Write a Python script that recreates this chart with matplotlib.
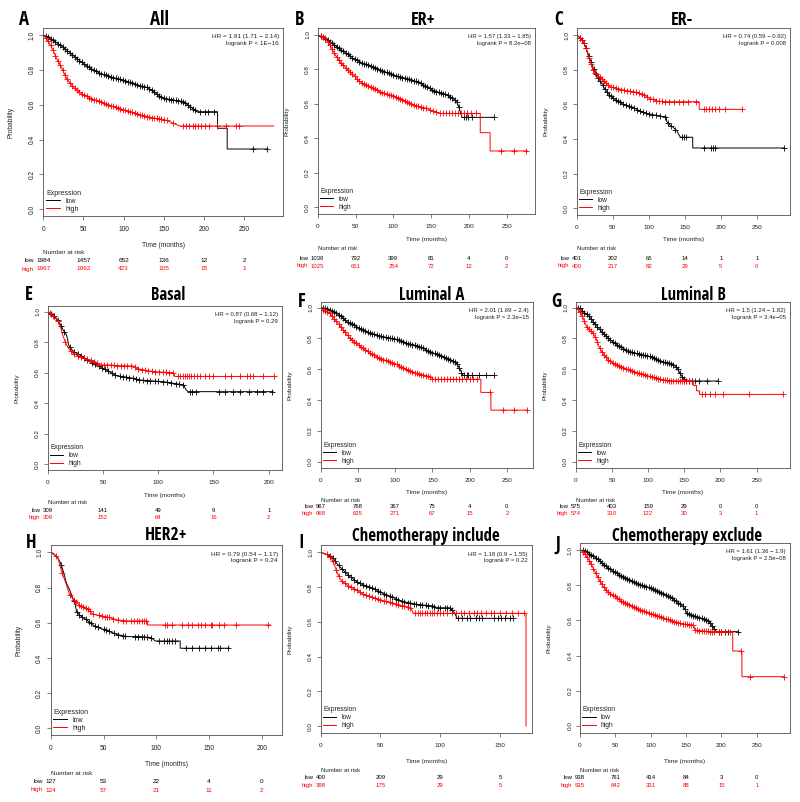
import numpy as np
import matplotlib
matplotlib.use("Agg")
import matplotlib.pyplot as plt
from matplotlib import font_manager
from matplotlib.font_manager import FontProperties

# ------------------------------------------------------------------ data
# A  All
A_low_t = [0, 5, 10, 20, 30, 40, 50, 60, 70, 80, 90, 100, 110, 120, 130, 137, 149, 162, 174, 183, 191, 217, 217, 229, 229, 279]
A_low_s = [1.0, 0.99, 0.975, 0.945, 0.91, 0.872, 0.835, 0.805, 0.782, 0.765, 0.752, 0.74, 0.726, 0.71, 0.698, 0.675, 0.637, 0.627, 0.618, 0.589, 0.56, 0.56, 0.465, 0.465, 0.346, 0.346]
A_low_cens = [3, 6, 9, 12, 15, 18, 21, 24, 27, 30, 33, 36, 39, 42, 45, 48, 51, 54, 57, 60, 63, 66, 69, 72, 75, 78, 81, 84, 87, 90, 93, 96, 99, 102, 105, 108, 111, 114, 117, 120, 123, 126, 129, 132, 135, 138, 141, 144, 147, 150, 153, 156, 159, 162, 165, 168, 171, 174, 177, 180, 183, 186, 189, 195, 201, 205, 212, 261, 278]
A_high_t = [0, 4, 8, 12, 16, 21, 25, 29, 34, 39, 45, 50, 60, 70, 80, 91, 100, 112, 122, 133, 145, 154, 162, 170, 287]
A_high_s = [1.0, 0.98, 0.95, 0.914, 0.87, 0.828, 0.79, 0.751, 0.72, 0.694, 0.672, 0.656, 0.635, 0.618, 0.60, 0.585, 0.57, 0.555, 0.54, 0.528, 0.518, 0.51, 0.493, 0.478, 0.478]
A_high_cens = [3, 6, 9, 12, 15, 18, 21, 24, 27, 30, 33, 36, 39, 42, 45, 48, 51, 54, 57, 60, 63, 66, 69, 72, 75, 78, 81, 84, 87, 90, 93, 96, 99, 102, 105, 108, 111, 114, 117, 120, 123, 126, 129, 132, 135, 138, 141, 144, 147, 150, 154, 162, 174, 178, 182, 186, 189, 193, 197, 201, 206, 216, 228, 240, 244]
A_risk_t = [0, 50, 100, 150, 200, 250]
A_risk_low = [1984, 1457, 652, 136, 12, 2]
A_risk_high = [1967, 1062, 423, 105, 15, 1]
A_stats = ["HR = 1.91 (1.71 \u2212 2.14)", "logrank P < 1E\u221216"]

# B  ER+
B_low_t = [0, 6, 12, 18, 25, 31, 38, 47, 54, 60, 68, 78, 88, 100, 113, 122, 131, 138, 144, 150, 157, 164, 171, 179, 184, 187, 189, 191, 233]
B_low_s = [1.0, 0.99, 0.972, 0.955, 0.932, 0.912, 0.894, 0.865, 0.848, 0.836, 0.822, 0.807, 0.788, 0.768, 0.752, 0.742, 0.729, 0.715, 0.70, 0.685, 0.671, 0.662, 0.652, 0.632, 0.61, 0.58, 0.545, 0.522, 0.522]
B_low_cens = [4, 7, 10, 13, 16, 19, 22, 25, 28, 31, 34, 37, 40, 43, 46, 49, 52, 55, 58, 61, 64, 67, 70, 73, 76, 79, 82, 85, 88, 91, 94, 97, 100, 103, 106, 109, 112, 115, 118, 121, 124, 127, 130, 133, 136, 139, 142, 145, 148, 151, 154, 157, 160, 163, 166, 169, 172, 175, 178, 181, 184, 187, 193, 196, 199, 204, 233]
B_high_t = [0, 5, 10, 14, 18.5, 24, 29.5, 36, 43, 50, 56, 62, 69, 76, 82, 90, 100, 106, 113, 120, 127, 135, 144, 152, 162, 215, 215, 228, 228, 277]
B_high_s = [1.0, 0.99, 0.98, 0.955, 0.923, 0.88, 0.845, 0.815, 0.787, 0.755, 0.729, 0.712, 0.70, 0.685, 0.671, 0.658, 0.646, 0.636, 0.623, 0.608, 0.594, 0.583, 0.574, 0.56, 0.545, 0.545, 0.433, 0.433, 0.327, 0.327]
B_high_cens = [4, 7, 10, 13, 16, 19, 22, 25, 28, 31, 34, 37, 40, 43, 46, 49, 52, 55, 58, 61, 64, 67, 70, 73, 76, 79, 82, 85, 88, 91, 94, 97, 100, 103, 106, 109, 112, 115, 118, 121, 124, 127, 130, 133, 136, 139, 143, 148, 152, 157, 162, 166, 170, 174, 178, 182, 186, 190, 194, 198, 203, 210, 243, 259, 276]
B_risk_t = [0, 50, 100, 150, 200, 250]
B_risk_low = [1036, 792, 399, 81, 4, 0]
B_risk_high = [1025, 651, 254, 72, 12, 2]
B_stats = ["HR = 1.57 (1.33 \u2212 1.85)", "logrank P = 8.2e\u221208"]

# C  ER-
C_low_t = [0, 3, 6, 9, 12, 14, 16, 18.5, 21, 23, 26, 28, 31, 35, 38, 42, 46, 51, 58, 65, 72, 79, 86, 93, 100, 106, 113, 120, 124, 125, 130, 134, 136, 139, 141, 144, 161, 161, 287]
C_low_s = [1.0, 0.99, 0.975, 0.96, 0.935, 0.913, 0.89, 0.86, 0.835, 0.81, 0.785, 0.765, 0.745, 0.72, 0.695, 0.67, 0.652, 0.635, 0.615, 0.60, 0.59, 0.58, 0.566, 0.552, 0.545, 0.54, 0.535, 0.529, 0.529, 0.50, 0.477, 0.467, 0.458, 0.448, 0.43, 0.41, 0.41, 0.348, 0.348]
C_low_cens = [4, 7, 10, 13, 17, 20, 24, 27, 30, 33, 36, 39, 42, 45, 48, 51, 54, 57, 60, 64, 68, 72, 76, 80, 84, 88, 92, 96, 100, 105, 110, 115, 122, 127, 131, 137, 146, 149, 152, 176, 186, 189, 192, 287]
C_high_t = [0, 3, 6, 9, 12, 14, 16, 18.5, 21, 24, 28, 32, 37, 42, 46, 53, 60, 68, 75, 79, 86, 93, 97, 101, 106, 111, 116, 125, 170, 170, 229]
C_high_s = [1.0, 0.99, 0.975, 0.96, 0.935, 0.91, 0.88, 0.85, 0.82, 0.79, 0.77, 0.755, 0.74, 0.72, 0.702, 0.695, 0.687, 0.68, 0.675, 0.673, 0.665, 0.654, 0.645, 0.635, 0.628, 0.62, 0.617, 0.615, 0.615, 0.571, 0.571]
C_high_cens = [4, 7, 10, 13, 17, 20, 23, 26, 29, 32, 35, 38, 41, 44, 47, 50, 54, 58, 62, 66, 70, 74, 78, 82, 86, 90, 94, 98, 102, 106, 110, 114, 118, 122, 128, 135, 142, 148, 155, 165, 176, 180, 184, 188, 192, 198, 206, 229]
C_risk_t = [0, 50, 100, 150, 200, 250]
C_risk_low = [401, 202, 65, 14, 1, 1]
C_risk_high = [400, 217, 82, 29, 5, 0]
C_stats = ["HR = 0.74 (0.59 \u2212 0.92)", "logrank P = 0.008"]

# E  Basal
E_low_t = [0, 2, 5, 8, 11, 14, 17, 18, 19, 22, 26, 32, 38, 44, 50, 56, 62, 69, 78, 84, 96, 105, 114, 123, 125, 127, 204]
E_low_s = [1.0, 0.989, 0.978, 0.956, 0.924, 0.88, 0.847, 0.82, 0.78, 0.749, 0.727, 0.705, 0.672, 0.651, 0.629, 0.607, 0.581, 0.574, 0.563, 0.552, 0.546, 0.541, 0.531, 0.52, 0.49, 0.476, 0.476]
E_low_cens = [3, 6, 9, 12, 15, 20, 24, 27, 30, 33, 36, 40, 43, 46, 49, 52, 55, 58, 61, 65, 68, 71, 74, 77, 80, 83, 86, 90, 93, 97, 100, 104, 108, 112, 116, 119, 122, 129, 131, 134, 155, 160, 168, 174, 182, 189, 195, 203]
E_high_t = [0, 3, 6, 8, 10, 12, 13, 15, 17, 20, 23, 29, 38, 44, 47, 56, 65, 78, 80, 87, 96, 114, 115, 206]
E_high_s = [1.0, 0.985, 0.965, 0.95, 0.934, 0.89, 0.858, 0.82, 0.782, 0.749, 0.727, 0.705, 0.683, 0.668, 0.651, 0.651, 0.646, 0.644, 0.629, 0.618, 0.607, 0.600, 0.576, 0.576]
E_high_cens = [2, 5, 9, 16, 21, 24, 27, 30, 33, 36, 39, 42, 45, 48, 51, 54, 57, 60, 63, 66, 69, 72, 75, 79, 82, 85, 88, 91, 94, 97, 101, 104, 107, 110, 113, 118, 120, 122, 124, 126, 128, 130, 132, 135, 138, 142, 146, 150, 160, 166, 174, 180, 183, 186, 195, 205]
E_risk_t = [0, 50, 100, 150, 200]
E_risk_low = [309, 141, 49, 9, 1]
E_risk_high = [309, 152, 64, 16, 2]
E_stats = ["HR = 0.87 (0.68 \u2212 1.12)", "logrank P = 0.29"]

# F  Luminal A
F_low_t = [0, 8, 15, 21.5, 28, 35, 42, 48, 55, 62, 68, 75, 82, 89, 96, 102, 109, 116, 122, 129, 136, 142, 149, 156, 162, 169, 174, 178, 182, 185, 188, 190, 192, 233]
F_low_s = [1.0, 0.995, 0.98, 0.963, 0.94, 0.909, 0.892, 0.877, 0.86, 0.844, 0.832, 0.823, 0.814, 0.805, 0.80, 0.794, 0.782, 0.768, 0.762, 0.753, 0.74, 0.725, 0.71, 0.697, 0.684, 0.671, 0.662, 0.654, 0.64, 0.617, 0.59, 0.567, 0.56, 0.56]
F_low_cens = [3, 6, 9, 12, 15, 18, 21, 24, 27, 30, 33, 36, 39, 42, 45, 48, 51, 54, 57, 60, 63, 66, 69, 72, 75, 78, 81, 84, 87, 90, 93, 96, 99, 102, 105, 108, 111, 114, 117, 120, 123, 126, 129, 132, 135, 138, 141, 144, 147, 150, 153, 156, 159, 162, 165, 168, 171, 174, 177, 180, 183, 186, 189, 193, 196, 198, 203, 212, 222, 233]
F_high_t = [0, 3.6, 8, 12.5, 17, 21.5, 26, 30.5, 35, 39, 44, 48, 55, 62, 68, 75, 82, 89, 96, 102, 109, 116, 125, 134, 140, 147, 151, 215, 215, 228.5, 228.5, 277]
F_high_s = [1.0, 0.985, 0.975, 0.963, 0.935, 0.909, 0.882, 0.855, 0.828, 0.801, 0.784, 0.768, 0.742, 0.719, 0.70, 0.682, 0.667, 0.654, 0.642, 0.632, 0.612, 0.595, 0.58, 0.567, 0.56, 0.552, 0.535, 0.535, 0.45, 0.45, 0.335, 0.335]
F_high_cens = [3, 6, 9, 12, 15, 18, 21, 24, 27, 30, 33, 36, 39, 42, 45, 48, 51, 54, 57, 60, 63, 66, 69, 72, 75, 78, 81, 84, 87, 90, 93, 96, 99, 102, 105, 108, 111, 114, 117, 120, 123, 126, 129, 132, 135, 138, 141, 144, 147, 150, 153, 157, 161, 165, 169, 173, 177, 181, 185, 190, 195, 200, 205, 210, 227, 245, 259, 277]
F_risk_t = [0, 50, 100, 150, 200, 250]
F_risk_low = [967, 768, 367, 75, 4, 0]
F_risk_high = [968, 635, 271, 67, 15, 2]
F_stats = ["HR = 2.01 (1.69 \u2212 2.4)", "logrank P = 2.3e\u221215"]

# G  Luminal B
G_low_t = [0, 6, 10, 15, 20, 24, 29, 34, 38, 43, 48, 52, 57, 61, 68, 75, 82, 89, 96, 103, 110, 116, 123, 130, 135, 139.5, 142, 144, 146, 148, 153, 197]
G_low_s = [1.0, 0.995, 0.975, 0.957, 0.935, 0.909, 0.882, 0.855, 0.835, 0.812, 0.79, 0.775, 0.76, 0.747, 0.73, 0.714, 0.705, 0.697, 0.69, 0.682, 0.668, 0.654, 0.645, 0.639, 0.63, 0.61, 0.592, 0.574, 0.56, 0.545, 0.524, 0.524]
G_low_cens = [3, 6, 9, 12, 15, 18, 21, 24, 27, 30, 33, 36, 39, 42, 45, 48, 51, 54, 57, 60, 63, 66, 69, 72, 75, 78, 81, 84, 87, 90, 93, 96, 99, 102, 105, 108, 111, 114, 117, 120, 123, 126, 129, 132, 135, 138, 141, 144, 147, 150, 153, 156, 160, 165, 170, 181, 197]
G_high_t = [0, 3, 6, 10, 15, 19, 24, 29, 32, 36, 40, 43, 47, 52, 59, 66, 73, 80, 87, 93, 100, 107, 114, 121, 130, 162.5, 162.5, 167, 167, 171, 171, 287]
G_high_s = [1.0, 0.99, 0.974, 0.935, 0.877, 0.855, 0.833, 0.79, 0.75, 0.714, 0.69, 0.671, 0.655, 0.639, 0.622, 0.61, 0.597, 0.584, 0.575, 0.567, 0.557, 0.548, 0.54, 0.532, 0.525, 0.525, 0.495, 0.495, 0.46, 0.46, 0.437, 0.437]
G_high_cens = [3, 6, 9, 12, 15, 18, 21, 24, 27, 30, 33, 36, 39, 42, 45, 48, 51, 54, 57, 60, 63, 66, 69, 72, 75, 78, 81, 84, 87, 90, 93, 96, 99, 102, 105, 108, 111, 114, 117, 120, 123, 126, 129, 132, 135, 138, 141, 144, 147, 150, 153, 156, 160, 174, 178, 185, 193, 204, 239, 287]
G_risk_t = [0, 50, 100, 150, 200, 250]
G_risk_low = [575, 403, 159, 29, 0, 0]
G_risk_high = [574, 310, 122, 30, 3, 1]
G_stats = ["HR = 1.5 (1.24 \u2212 1.82)", "logrank P = 3.4e\u221205"]

# H  HER2+
H_low_t = [0, 4, 7, 9.5, 12, 15, 18, 21.5, 23, 24.5, 28, 34, 40, 47, 56, 62.5, 72, 85, 95, 99, 122.6, 122.6, 169]
H_low_s = [1.0, 0.985, 0.966, 0.937, 0.89, 0.824, 0.786, 0.729, 0.71, 0.663, 0.64, 0.616, 0.587, 0.568, 0.549, 0.534, 0.521, 0.521, 0.515, 0.496, 0.496, 0.455, 0.455]
H_low_cens = [10, 22, 25, 27, 30, 33, 36, 38, 42, 45, 50, 52, 55, 60, 64, 68, 70, 80, 83, 86, 88, 91, 95, 103, 107, 110, 112, 115, 118, 128, 134, 140, 146, 152, 158, 160, 168]
H_high_t = [0, 2.5, 7, 10.4, 15, 18, 23, 28, 34, 40, 47, 56, 62.5, 72, 91.6, 91.6, 208]
H_high_s = [1.0, 0.994, 0.966, 0.89, 0.814, 0.758, 0.723, 0.695, 0.682, 0.648, 0.64, 0.629, 0.616, 0.61, 0.61, 0.587, 0.587]
H_high_cens = [5, 11, 18, 22, 24, 27, 29, 31, 33, 35, 37, 40, 46, 49, 51, 53, 55, 59, 64, 68, 71, 76, 79, 82, 84, 86, 88, 90, 108, 110, 115, 124, 130, 134, 139, 142, 146, 152, 153, 159, 164, 175, 206]
H_risk_t = [0, 50, 100, 150, 200]
H_risk_low = [127, 53, 22, 4, 0]
H_risk_high = [124, 57, 21, 11, 2]
H_stats = ["HR = 0.79 (0.54 \u2212 1.17)", "logrank P = 0.24"]

# I  Chemotherapy include
I_low_t = [0, 5, 7.8, 10.6, 13.4, 16, 20, 24.5, 30, 35.7, 40, 44, 48, 52, 56, 61, 65, 69, 75, 80, 87, 94, 97, 108, 112, 114, 161]
I_low_s = [1.0, 0.988, 0.98, 0.965, 0.937, 0.917, 0.889, 0.86, 0.831, 0.812, 0.803, 0.793, 0.778, 0.764, 0.752, 0.739, 0.727, 0.716, 0.708, 0.701, 0.696, 0.691, 0.681, 0.681, 0.65, 0.62, 0.62]
I_low_cens = [8, 10, 12, 15, 18, 20, 23, 25, 28, 30, 33, 35, 38, 40, 43, 45, 48, 50, 53, 55, 58, 60, 63, 65, 68, 70, 73, 75, 78, 80, 83, 85, 88, 90, 93, 95, 98, 100, 104, 106, 108, 110, 115, 118, 122, 125, 130, 132, 135, 145, 148, 151, 154, 158, 161]
I_high_t = [0, 5, 9, 12, 14, 16, 19, 24.5, 30, 35.7, 41, 50, 58, 66, 75, 77.5, 171.7, 171.7]
I_high_s = [1.0, 0.988, 0.965, 0.917, 0.88, 0.85, 0.827, 0.802, 0.783, 0.758, 0.745, 0.726, 0.712, 0.697, 0.681, 0.649, 0.649, 0.0]
I_high_cens = [5, 8, 10, 13, 15, 18, 20, 23, 25, 28, 30, 33, 35, 38, 40, 43, 45, 48, 50, 53, 55, 58, 60, 63, 65, 68, 70, 73, 75, 79, 81, 83, 85, 87, 89, 91, 93, 95, 97, 100, 102, 106, 110, 113, 117, 120, 124, 128, 131, 134, 138, 142, 145, 150, 155, 160, 165, 170]
I_risk_t = [0, 50, 100, 150]
I_risk_low = [400, 209, 29, 5]
I_risk_high = [398, 175, 29, 5]
I_stats = ["HR = 1.18 (0.9 \u2212 1.55)", "logrank P = 0.22"]

# J  Chemotherapy exclude
J_low_t = [0, 5, 9.4, 16, 23.6, 30, 37.7, 45, 52, 59, 66, 73, 80, 87, 94, 101, 108, 115, 123, 130, 137, 142, 146, 149, 151, 158, 165, 172, 179, 183, 186, 190, 193, 223]
J_low_s = [1.0, 0.997, 0.99, 0.972, 0.953, 0.93, 0.905, 0.885, 0.867, 0.852, 0.839, 0.825, 0.811, 0.801, 0.792, 0.781, 0.769, 0.757, 0.744, 0.727, 0.706, 0.692, 0.678, 0.66, 0.64, 0.63, 0.621, 0.612, 0.602, 0.59, 0.574, 0.55, 0.536, 0.536]
J_low_cens = [4, 7, 10, 13, 16, 19, 22, 25, 28, 31, 34, 37, 40, 43, 46, 49, 52, 55, 58, 61, 64, 67, 70, 73, 76, 79, 82, 85, 88, 91, 94, 97, 100, 103, 106, 109, 112, 115, 118, 121, 124, 127, 130, 133, 136, 139, 142, 145, 148, 151, 154, 157, 160, 163, 166, 169, 172, 175, 178, 181, 184, 187, 190, 196, 200, 205, 210, 223]
J_high_t = [0, 4.7, 9, 14, 19, 23.6, 28, 33, 38, 42.5, 50, 56.6, 63, 70.8, 78, 85, 92, 99, 106, 113, 120, 127, 134, 141.5, 150, 160, 163, 184, 216, 216, 229, 229, 288]
J_high_s = [1.0, 0.99, 0.965, 0.934, 0.895, 0.858, 0.825, 0.792, 0.77, 0.754, 0.735, 0.716, 0.702, 0.688, 0.673, 0.659, 0.65, 0.64, 0.63, 0.621, 0.611, 0.602, 0.592, 0.583, 0.578, 0.574, 0.545, 0.536, 0.536, 0.426, 0.426, 0.28, 0.28]
J_high_cens = [4, 7, 10, 13, 16, 19, 22, 25, 28, 31, 34, 37, 40, 43, 46, 49, 52, 55, 58, 61, 64, 67, 70, 73, 76, 79, 82, 85, 88, 91, 94, 97, 100, 103, 106, 109, 112, 115, 118, 121, 124, 127, 130, 133, 136, 139, 142, 145, 148, 151, 154, 157, 160, 163, 166, 169, 172, 175, 178, 181, 184, 187, 190, 196, 200, 205, 212, 228, 240, 288]
J_risk_t = [0, 50, 100, 150, 200, 250]
J_risk_low = [938, 761, 414, 84, 3, 0]
J_risk_high = [935, 642, 331, 88, 15, 1]
J_stats = ["HR = 1.61 (1.36 \u2212 1.9)", "logrank P = 2.5e\u221208"]

TITLES = {"A": "All", "B": "ER+", "C": "ER-", "E": "Basal", "F": "Luminal A",
          "G": "Luminal B", "H": "HER2+", "I": "Chemotherapy include",
          "J": "Chemotherapy exclude"}
GROUP_LABELS = ["low", "high"]
GROUP_COLORS = ["black", "#FF0000"]

PANELS = {
    "A": (A_low_t, A_low_s, A_low_cens, A_high_t, A_high_s, A_high_cens, A_risk_t, A_risk_low, A_risk_high, A_stats),
    "B": (B_low_t, B_low_s, B_low_cens, B_high_t, B_high_s, B_high_cens, B_risk_t, B_risk_low, B_risk_high, B_stats),
    "C": (C_low_t, C_low_s, C_low_cens, C_high_t, C_high_s, C_high_cens, C_risk_t, C_risk_low, C_risk_high, C_stats),
    "E": (E_low_t, E_low_s, E_low_cens, E_high_t, E_high_s, E_high_cens, E_risk_t, E_risk_low, E_risk_high, E_stats),
    "F": (F_low_t, F_low_s, F_low_cens, F_high_t, F_high_s, F_high_cens, F_risk_t, F_risk_low, F_risk_high, F_stats),
    "G": (G_low_t, G_low_s, G_low_cens, G_high_t, G_high_s, G_high_cens, G_risk_t, G_risk_low, G_risk_high, G_stats),
    "H": (H_low_t, H_low_s, H_low_cens, H_high_t, H_high_s, H_high_cens, H_risk_t, H_risk_low, H_risk_high, H_stats),
    "I": (I_low_t, I_low_s, I_low_cens, I_high_t, I_high_s, I_high_cens, I_risk_t, I_risk_low, I_risk_high, I_stats),
    "J": (J_low_t, J_low_s, J_low_cens, J_high_t, J_high_s, J_high_cens, J_risk_t, J_risk_low, J_risk_high, J_stats),
}

# ------------------------------------------------------------------ layout (pixels)
# box = (left, right, top, bottom); ttl = (x, baseline y, size); rows = (xlabel y, NAR y, low y, high y)
LAYOUT = {
    "A": dict(box=(43.3, 283, 28.0, 216.3), xmax=298.5, ttl=(159, 25, 13.5), let=(24, 25), rows=(245.7, 253, 261, 269), fs=1.0),
    "B": dict(box=(317.7, 535, 28.1, 214.2), xmax=287.4, ttl=(423, 25, 13.0), let=(300, 25), rows=(240, 249, 258, 266), fs=0.95),
    "C": dict(box=(576.7, 790, 28.1, 215.2), xmax=296, ttl=(682, 25, 13.0), let=(559, 25), rows=(240, 249, 258, 266), fs=0.95),
    "E": dict(box=(47.7, 282, 305.6, 470.4), xmax=212, ttl=(168, 300, 12.0), let=(29, 300), rows=(495, 502.7, 510, 517.3), fs=0.95),
    "F": dict(box=(320.7, 533, 301.5, 467.9), xmax=285, ttl=(431.7, 300, 12.0), let=(302, 306.7), rows=(492.3, 500, 506.7, 513.3), fs=0.95),
    "G": dict(box=(575.7, 790, 301.5, 467.9), xmax=296, ttl=(693, 300, 12.0), let=(556, 306.7), rows=(492.7, 500, 506.7, 513.3), fs=0.95),
    "H": dict(box=(50.7, 282, 545.3, 735.3), xmax=219, ttl=(165.7, 540, 12.8), let=(31, 548.3), rows=(764.3, 773.3, 781.7, 790), fs=1.0),
    "I": dict(box=(320.7, 532, 545.4, 733), xmax=176.7, ttl=(426, 541, 12.1), let=(301, 548.3), rows=(761.7, 770, 777.7, 785.7), fs=0.95),
    "J": dict(box=(580, 790, 543, 733), xmax=297, ttl=(686.7, 541, 12.1), let=(558, 550), rows=(761.7, 770, 777.7, 785.7), fs=0.95),
}

W, H = 800, 802
fig = plt.figure(figsize=(W / 100, H / 100), dpi=100)
fig.patch.set_facecolor("white")

SANS = ["Liberation Sans", "DejaVu Sans"]


def _wnum(w):
    try:
        return int(w)
    except (TypeError, ValueError):
        return {"bold": 700, "heavy": 800, "black": 900, "extra bold": 800,
                "semibold": 600, "demibold": 600, "demi": 600}.get(str(w).lower(), 400)


def pick_condensed_bold():
    pref = ["open sans condensed", "liberation sans narrow", "noto sans", "dejavu sans",
            "roboto condensed", "lato"]
    best, best_score = None, None
    for f in font_manager.fontManager.ttflist:
        nm = f.name.lower()
        st = str(f.stretch).lower()
        fn = f.fname.lower()
        cond = ("condensed" in nm or "narrow" in nm or "cond" in st
                or "condensed" in fn or "cond" in fn.split("/")[-1] or "narrow" in fn)
        if "semicond" in fn or "semi" in st or "extracond" in fn or "ultra" in st or "extra" in st:
            continue
        if not cond or f.style != "normal":
            continue
        w = _wnum(f.weight)
        if w < 600 or w > 750:
            continue
        rank = len(pref)
        for i, p in enumerate(pref):
            if nm.startswith(p):
                rank = i
                break
        score = (rank, abs(w - 700))
        if best_score is None or score < best_score:
            best, best_score = f, score
    return best


_cb = pick_condensed_bold()


def title_props(size):
    if _cb is not None:
        return FontProperties(fname=_cb.fname, size=size)
    return FontProperties(family="DejaVu Sans", weight="bold", stretch="condensed", size=size * 0.82)


EDGE = "#4d4d4d"


def fy(py):
    return 1 - py / H


for key, (lt, ls_, lc, ht, hs, hc, rt, rl, rh, stats) in PANELS.items():
    lay = LAYOUT[key]
    L, R, T, B = lay["box"]
    k = lay["fs"]
    ax = fig.add_axes([L / W, fy(B), (R - L) / W, (B - T) / H])
    ax.set_xlim(0, lay["xmax"])
    ax.set_ylim(-0.04, 1.04)
    handles = []
    for t, s, c, col, lab in [(lt, ls_, lc, GROUP_COLORS[0], GROUP_LABELS[0]),
                              (ht, hs, hc, GROUP_COLORS[1], GROUP_LABELS[1])]:
        ln, = ax.plot(t, s, color=col, lw=0.7, label=lab, solid_joinstyle="miter")
        handles.append(ln)
        cy = np.interp(c, t, s)
        ax.plot(c, cy, ls="none", marker="+", ms=4.0, mew=0.6, color=col)
    for sp in ax.spines.values():
        sp.set_color(EDGE)
        sp.set_linewidth(0.6)
    ax.set_xticks(rt)
    ax.set_xticklabels([str(v) for v in rt])
    yt = [0.0, 0.2, 0.4, 0.6, 0.8, 1.0]
    ax.set_yticks(yt)
    ax.set_yticklabels(["%.1f" % v for v in yt], rotation=90, va="center")
    ax.tick_params(direction="out", length=3, width=0.5, color=EDGE,
                   labelsize=4.8 * k, labelcolor="#222222")
    ax.tick_params(axis="x", pad=4.2)
    ax.tick_params(axis="y", pad=2.5)
    for lab in ax.get_xticklabels() + ax.get_yticklabels():
        lab.set_family(SANS)
    ax.set_ylabel("Probability", fontsize=4.8 * k, family=SANS, color="#222222")
    ax.yaxis.set_label_coords(-28.5 / (R - L), 0.5)
    ax.annotate(stats[0], xy=(1, 1), xycoords="axes fraction", xytext=(-3.0, -6.3),
                textcoords="offset points", ha="right", va="center",
                fontsize=4.6 * k, family=SANS, color="#222222")
    ax.annotate(stats[1], xy=(1, 1), xycoords="axes fraction", xytext=(-3.0, -11.2),
                textcoords="offset points", ha="right", va="center",
                fontsize=4.6 * k, family=SANS, color="#222222")
    leg = ax.legend(handles=handles, title="Expression", loc="lower left",
                    bbox_to_anchor=(0.005, 0.012), frameon=False,
                    fontsize=5.0 * k, title_fontsize=5.0 * k, handlelength=2.0,
                    handletextpad=0.8, labelspacing=0.15, borderpad=0.2,
                    borderaxespad=0, alignment="left")
    for txt in leg.get_texts():
        txt.set_family(SANS)
        txt.set_color("#222222")
    leg.get_title().set_family(SANS)
    leg.get_title().set_color("#222222")
    for hl in leg.legend_handles:
        hl.set_linewidth(0.7)
    tx, tyy, tsz = lay["ttl"]
    fig.text(tx / W, fy(tyy), TITLES[key], ha="center", va="baseline",
             fontproperties=title_props(tsz))
    lx, lyy = lay["let"]
    fig.text(lx / W, fy(lyy), key, ha="center", va="baseline",
             fontproperties=title_props(13.5))
    xl_y, nar_y, low_y, high_y = lay["rows"]
    fig.text((L + R) / 2 / W, fy(xl_y), "Time (months)", ha="center", va="center",
             fontsize=4.8 * k, family=SANS, color="#222222")
    ax.annotate("Number at risk", xy=(0, fy(nar_y)), xycoords=("axes fraction", "figure fraction"),
                ha="left", va="center", fontsize=4.6 * k, family=SANS, color="#222222",
                annotation_clip=False)
    nfs = 4.6 * k
    for vals, yy, col, lab in [(rl, low_y, GROUP_COLORS[0], GROUP_LABELS[0]),
                               (rh, high_y, GROUP_COLORS[1], GROUP_LABELS[1])]:
        for tv, nv in zip(rt, vals):
            ax.annotate(str(nv), xy=(tv, fy(yy)), xycoords=("data", "figure fraction"),
                        ha="center", va="center", fontsize=nfs, family=SANS,
                        color=col, annotation_clip=False)
        ndig = max(len(str(rl[0])), len(str(rh[0])))
        off = ndig * 0.556 * nfs / 2 + 1.8
        ax.annotate(lab, xy=(0, fy(yy)), xycoords=("data", "figure fraction"),
                    xytext=(-off, 0), textcoords="offset points",
                    ha="right", va="center", fontsize=nfs, family=SANS,
                    color=col, annotation_clip=False)

fig.savefig("out.png", dpi=100, facecolor="white")
